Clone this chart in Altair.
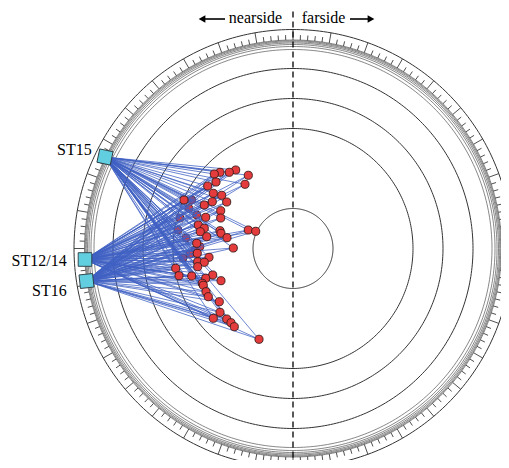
import numpy as np
import pandas as pd
import altair as alt

# ---- data (disc-relative units, y up) ----
station_names = ["ST15", "ST12/14", "ST16"]
station_x = [-188.0, -208.0, -206.5]
station_y = [91.5, -11.0, -32.5]
station_angle = [12, 0, 354]

pt_x = [-57.3, -63.7, -73.0, -78.7, -44.7, -77.0, -85.3, -48.0, -79.7, -71.3,
        -109.0, -66.3, -80.7, -88.7, -72.3, -72.3, -87.3, -94.7, -88.7, -73.0,
        -44.7, -37.3, -92.7, -86.3, -72.0, -66.0, -59.7, -95.7, -84.0, -95.3,
        -88.7, -95.3, -117.3, -114.0, -101.3, -80.3, -87.3, -72.0, -90.7, -89.7,
        -87.0, -84.7, -73.7, -73.0, -79.7, -66.3, -62.0, -58.7, -34.0, -96.3]
pt_y = [78.5, 76.2, 76.2, 74.5, 73.2, 66.5, 62.5, 64.2, 55.2, 53.2,
        48.5, 46.5, 46.8, 43.5, 37.8, 30.5, 31.2, 23.5, 20.2, 17.8,
        18.5, 17.2, 16.8, 11.8, 15.2, 10.8, 0.5, -4.8, -8.8, -13.2,
        -13.8, -18.2, -19.8, -27.2, -27.5, -26.5, -29.8, -32.2, -34.8, -36.8,
        -43.2, -48.2, -53.2, -63.8, -69.8, -70.5, -74.2, -78.2, -90.8, 5.2]
under_x = [-101.3, -113.0, -96.3, -115.0, -98.0, -103.0, -107.0, -110.0, -104.0, -93.0]
under_y = [48.5, 30.5, 33.5, 18.5, -1.5, -5.5, 10.5, -9.5, 40.0, 2.0]

ring_main = [40, 120, 150, 180]
ring_limb = [199, 202, 204, 205.5, 206.7, 207.7, 208.5]
ring_outer = [219]
tick_base, tick_minor, tick_major = 208.5, 213.5, 219
tick_step, major_every = 2, 10

side_labels = ["nearside", "farside"]
side_x = [-37.5, 30.5]
text_y = 225.5

SERIF = "Liberation Serif, Times New Roman, serif"

# ---- derived tables ----
def ring_table(radii, group):
    rows = []
    th = np.deg2rad(np.arange(0, 361, 1))
    for i, r in enumerate(radii):
        for k, t in enumerate(th):
            rows.append({"x": r * np.cos(t), "y": r * np.sin(t), "ring": f"{group}{i}", "o": k})
    return pd.DataFrame(rows)

rings_main_df = ring_table(ring_main + ring_outer, "m")
rings_limb_df = ring_table(ring_limb, "l")

ang = np.arange(0, 360, tick_step)
r2 = np.where(ang % major_every == 0, tick_major, tick_minor)
tick_df = pd.DataFrame({
    "x": tick_base * np.cos(np.deg2rad(ang)), "y": tick_base * np.sin(np.deg2rad(ang)),
    "x2": r2 * np.cos(np.deg2rad(ang)), "y2": r2 * np.sin(np.deg2rad(ang)),
})

st_df = pd.DataFrame({"name": station_names, "x": station_x, "y": station_y, "a": station_angle})
pts_df = pd.DataFrame({"x": pt_x, "y": pt_y})
under_df = pd.DataFrame({"x": under_x, "y": under_y})
all_pts = pd.concat([under_df, pts_df], ignore_index=True)
link_rows = []
for sx, sy in zip(station_x, station_y):
    for px, py in zip(all_pts["x"], all_pts["y"]):
        link_rows.append({"x": sx, "y": sy, "x2": px, "y2": py})
link_df = pd.DataFrame(link_rows)

label_df = pd.DataFrame({"name": station_names,
                         "x": [-201.3, -226.3, -226.3],
                         "y": [93.5, -17.5, -47.5]})
side_df = pd.DataFrame({"t": side_labels, "x": side_x, "y": [text_y, text_y]})

xs = alt.Scale(domain=[-285, 208], nice=False, zero=False)
ys = alt.Scale(domain=[-211.5, 240.5], nice=False, zero=False)
X = lambda f="x": alt.X(f"{f}:Q", scale=xs, axis=None)
Y = lambda f="y": alt.Y(f"{f}:Q", scale=ys, axis=None)

rings_main = alt.Chart(rings_main_df).mark_line(color="#333333", strokeWidth=1).encode(
    x=X(), y=Y(), detail="ring:N", order="o:Q")
rings_limb = alt.Chart(rings_limb_df).mark_line(color="#555555", strokeWidth=0.7).encode(
    x=X(), y=Y(), detail="ring:N", order="o:Q")
ticks = alt.Chart(tick_df).mark_rule(color="#222222", strokeWidth=0.8).encode(
    x=X(), y=Y(), x2="x2:Q", y2="y2:Q")

dash_df = pd.DataFrame({"x": [0], "y": [237], "y2": [-215]})
dash = alt.Chart(dash_df).mark_rule(color="black", strokeWidth=1.3, strokeDash=[6, 4]).encode(
    x=X(), y=Y(), y2="y2:Q")

under = alt.Chart(under_df).mark_point(shape="circle", filled=True, size=64, fill="#e03a3a",
                                       stroke="#3a1a1a", strokeWidth=0.8, opacity=1).encode(x=X(), y=Y())
links = alt.Chart(link_df).mark_rule(color="#3f60c2", strokeWidth=0.85, opacity=0.9).encode(
    x=X(), y=Y(), x2="x2:Q", y2="y2:Q")
points = alt.Chart(pts_df).mark_point(shape="circle", filled=True, size=66, fill="#e43c3c",
                                      stroke="#3a1a1a", strokeWidth=0.9, opacity=1).encode(x=X(), y=Y())
stations = alt.Chart(st_df).mark_point(shape="square", filled=True, size=185, fill="#62cfe0",
                                       stroke="#2a3a40", strokeWidth=0.9, opacity=1).encode(
    x=X(), y=Y(), angle=alt.Angle("a:Q", scale=None))

labels = alt.Chart(label_df).mark_text(font=SERIF, fontSize=16, align="right",
                                       baseline="alphabetic", color="black").encode(
    x=X(), y=Y(), text="name:N")
side = alt.Chart(side_df).mark_text(font=SERIF, fontSize=16, align="center",
                                    baseline="alphabetic", color="black").encode(
    x=X(), y=Y(), text="t:N")

arrow_df = pd.DataFrame({"x": [-88, 57], "x2": [-68, 75], "y": [229.5, 229.5]})
arrow_lines = alt.Chart(arrow_df).mark_rule(color="black", strokeWidth=1.6).encode(
    x=X(), x2="x2:Q", y=Y())
head_df = pd.DataFrame({"x": [-91, 78], "y": [229.5, 229.5], "s": ["triangle-left", "triangle-right"]})
heads = alt.Chart(head_df).mark_point(filled=True, size=60, color="black", opacity=1).encode(
    x=X(), y=Y(), shape=alt.Shape("s:N", scale=None))

chart = alt.layer(rings_main, rings_limb, ticks, dash, under, links, points, stations,
                  labels, side, arrow_lines, heads).properties(
    width=493, height=452, padding=0,
    autosize=alt.AutoSizeParams(type="none")
).configure_view(stroke=None)

chart.save("out.html", embed_options={"renderer": "svg", "actions": False})
